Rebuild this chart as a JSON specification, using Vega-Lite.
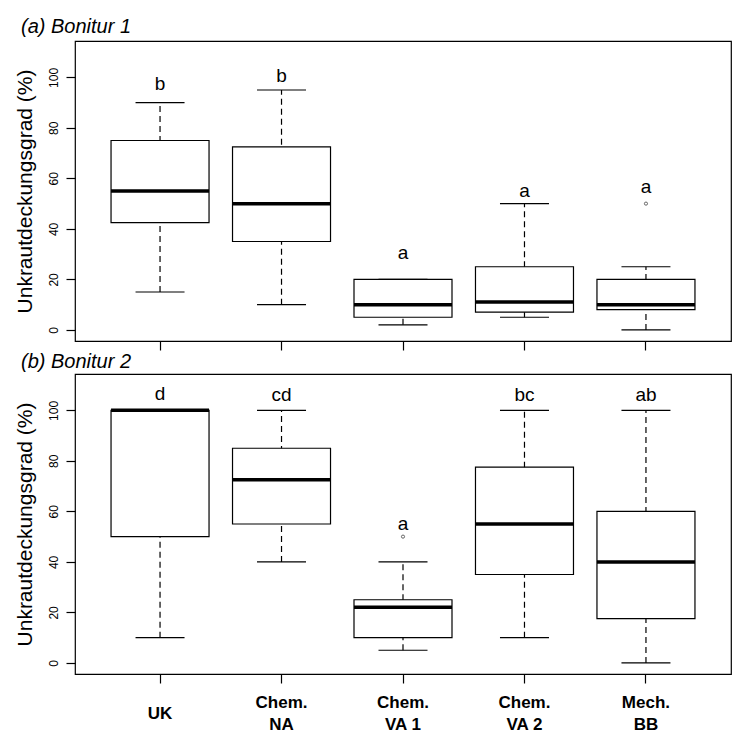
{
  "$schema": "https://vega.github.io/schema/vega-lite/v6.json",
  "background": "white",
  "padding": {"left": 13, "top": 16, "right": 5, "bottom": 0},
  "bounds": "flush",
  "spacing": 33,
  "datasets": {
    "b1": [
      {"trt": "UK", "lo": 15, "q1": 42.5, "med": 55, "q3": 75, "hi": 90, "letter": "b", "ly": 97.5},
      {"trt": "Chem.|NA", "lo": 10, "q1": 35, "med": 50, "q3": 72.5, "hi": 95, "letter": "b", "ly": 100.5},
      {"trt": "Chem.|VA 1", "lo": 2, "q1": 5, "med": 10, "q3": 20, "hi": 20, "letter": "a", "ly": 30.5},
      {"trt": "Chem.|VA 2", "lo": 5, "q1": 7, "med": 11, "q3": 25, "hi": 50, "letter": "a", "ly": 55},
      {"trt": "Mech.|BB", "lo": 0, "q1": 8, "med": 10, "q3": 20, "hi": 25, "letter": "a", "ly": 56.5}
    ],
    "o1": [
      {"trt": "Mech.|BB", "val": 50}
    ],
    "b2": [
      {"trt": "UK", "lo": 10, "q1": 50, "med": 100, "q3": 100, "hi": 100, "letter": "d", "ly": 106.5},
      {"trt": "Chem.|NA", "lo": 40, "q1": 55, "med": 72.5, "q3": 85, "hi": 100, "letter": "cd", "ly": 106},
      {"trt": "Chem.|VA 1", "lo": 5, "q1": 10, "med": 22, "q3": 25, "hi": 40, "letter": "a", "ly": 55},
      {"trt": "Chem.|VA 2", "lo": 10, "q1": 35, "med": 55, "q3": 77.5, "hi": 100, "letter": "bc", "ly": 106},
      {"trt": "Mech.|BB", "lo": 0, "q1": 17.5, "med": 40, "q3": 60, "hi": 100, "letter": "ab", "ly": 106}
    ],
    "o2": [
      {"trt": "Chem.|VA 1", "val": 50}
    ]
  },
  "vconcat": [
    {
      "width": 656,
      "height": 300,
      "title": {"text": "(a) Bonitur 1", "anchor": "start", "frame": "group", "dx": -54, "offset": 4, "fontStyle": "italic", "fontWeight": "normal", "fontSize": 20, "font": "Liberation Sans", "color": "black"},
      "data": {"name": "b1"},
      "encoding": {
        "x": {"field": "trt", "type": "nominal", "sort": ["UK", "Chem.|NA", "Chem.|VA 1", "Chem.|VA 2", "Mech.|BB"], "scale": {"paddingInner": 0, "paddingOuter": 0.2}, "axis": {"labels": false, "title": null}}
      },
      "layer": [
        {"mark": {"type": "rule", "strokeDash": [6, 4], "strokeWidth": 1.2, "color": "black"},
         "encoding": {"y": {"field": "lo", "type": "quantitative", "scale": {"domain": [-4.4, 114.4], "nice": false, "zero": false}, "title": "Unkrautdeckungsgrad (%)"}, "y2": {"field": "hi"}}},
        {"mark": {"type": "bar", "size": 98, "fill": "white", "stroke": "black", "strokeWidth": 1.2},
         "encoding": {"y": {"field": "q1", "type": "quantitative", "scale": {"domain": [-4.4, 114.4], "nice": false, "zero": false}, "title": "Unkrautdeckungsgrad (%)"}, "y2": {"field": "q3"}}},
        {"mark": {"type": "tick", "size": 49, "thickness": 1.2, "color": "black", "opacity": 1},
         "encoding": {"y": {"field": "lo", "type": "quantitative", "scale": {"domain": [-4.4, 114.4], "nice": false, "zero": false}, "title": "Unkrautdeckungsgrad (%)"}}},
        {"mark": {"type": "tick", "size": 49, "thickness": 1.2, "color": "black", "opacity": 1},
         "encoding": {"y": {"field": "hi", "type": "quantitative", "scale": {"domain": [-4.4, 114.4], "nice": false, "zero": false}, "title": "Unkrautdeckungsgrad (%)"}}},
        {"mark": {"type": "tick", "size": 98, "thickness": 3.5, "color": "black", "opacity": 1},
         "encoding": {"y": {"field": "med", "type": "quantitative", "scale": {"domain": [-4.4, 114.4], "nice": false, "zero": false}, "title": "Unkrautdeckungsgrad (%)"}}},
        {"data": {"name": "o1"},
         "mark": {"type": "point", "shape": "circle", "filled": false, "size": 10, "strokeWidth": 0.8, "color": "#444", "opacity": 1},
         "encoding": {"y": {"field": "val", "type": "quantitative", "scale": {"domain": [-4.4, 114.4], "nice": false, "zero": false}, "title": "Unkrautdeckungsgrad (%)"}}},
        {"mark": {"type": "text", "fontSize": 19, "baseline": "middle", "color": "black"},
         "encoding": {"y": {"field": "ly", "type": "quantitative", "scale": {"domain": [-4.4, 114.4], "nice": false, "zero": false}, "title": "Unkrautdeckungsgrad (%)"}, "text": {"field": "letter"}}}
      ]
    },
    {
      "width": 656,
      "height": 300,
      "title": {"text": "(b) Bonitur 2", "anchor": "start", "frame": "group", "dx": -54, "offset": 2, "fontStyle": "italic", "fontWeight": "normal", "fontSize": 20, "font": "Liberation Sans", "color": "black"},
      "data": {"name": "b2"},
      "encoding": {
        "x": {"field": "trt", "type": "nominal", "sort": ["UK", "Chem.|NA", "Chem.|VA 1", "Chem.|VA 2", "Mech.|BB"], "scale": {"paddingInner": 0, "paddingOuter": 0.2},
              "axis": {"title": null, "labelAngle": 0, "labelFontSize": 17, "labelFontWeight": "bold", "labelBaseline": "top", "labelPadding": {"condition": {"test": "datum.value === 'UK'", "value": 22}, "value": 11}, "labelLineHeight": 22, "labelExpr": "split(datum.label, '|')"}}
      },
      "layer": [
        {"mark": {"type": "rule", "strokeDash": [6, 4], "strokeWidth": 1.2, "color": "black"},
         "encoding": {"y": {"field": "lo", "type": "quantitative", "scale": {"domain": [-4.4, 114.4], "nice": false, "zero": false}, "title": "Unkrautdeckungsgrad (%)"}, "y2": {"field": "hi"}}},
        {"mark": {"type": "bar", "size": 98, "fill": "white", "stroke": "black", "strokeWidth": 1.2},
         "encoding": {"y": {"field": "q1", "type": "quantitative", "scale": {"domain": [-4.4, 114.4], "nice": false, "zero": false}, "title": "Unkrautdeckungsgrad (%)"}, "y2": {"field": "q3"}}},
        {"mark": {"type": "tick", "size": 49, "thickness": 1.2, "color": "black", "opacity": 1},
         "encoding": {"y": {"field": "lo", "type": "quantitative", "scale": {"domain": [-4.4, 114.4], "nice": false, "zero": false}, "title": "Unkrautdeckungsgrad (%)"}}},
        {"mark": {"type": "tick", "size": 49, "thickness": 1.2, "color": "black", "opacity": 1},
         "encoding": {"y": {"field": "hi", "type": "quantitative", "scale": {"domain": [-4.4, 114.4], "nice": false, "zero": false}, "title": "Unkrautdeckungsgrad (%)"}}},
        {"mark": {"type": "tick", "size": 98, "thickness": 3.5, "color": "black", "opacity": 1},
         "encoding": {"y": {"field": "med", "type": "quantitative", "scale": {"domain": [-4.4, 114.4], "nice": false, "zero": false}, "title": "Unkrautdeckungsgrad (%)"}}},
        {"data": {"name": "o2"},
         "mark": {"type": "point", "shape": "circle", "filled": false, "size": 10, "strokeWidth": 0.8, "color": "#444", "opacity": 1},
         "encoding": {"y": {"field": "val", "type": "quantitative", "scale": {"domain": [-4.4, 114.4], "nice": false, "zero": false}, "title": "Unkrautdeckungsgrad (%)"}}},
        {"mark": {"type": "text", "fontSize": 19, "baseline": "middle", "color": "black"},
         "encoding": {"y": {"field": "ly", "type": "quantitative", "scale": {"domain": [-4.4, 114.4], "nice": false, "zero": false}, "title": "Unkrautdeckungsgrad (%)"}, "text": {"field": "letter"}}}
      ]
    }
  ],
  "config": {
    "font": "Liberation Sans",
    "view": {"stroke": "black", "strokeWidth": 1.2},
    "axis": {"grid": false, "domain": false, "tickColor": "black", "tickSize": 9, "tickWidth": 1.2, "labelColor": "black", "titleColor": "black"},
    "axisY": {"values": [0, 20, 40, 60, 80, 100], "labelAngle": -90, "labelAlign": "center", "labelBaseline": "bottom", "labelFontSize": 12, "labelPadding": 6, "titleFontSize": 21, "titleFontWeight": "normal", "titlePadding": 12}
  }
}
